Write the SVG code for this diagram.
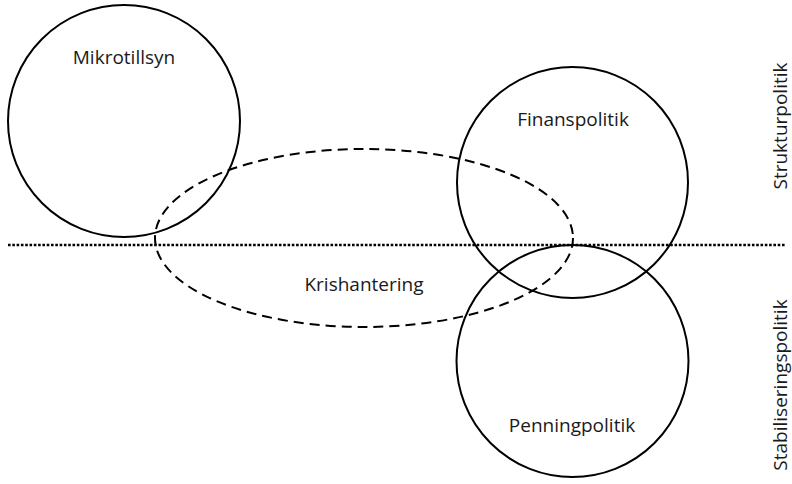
<svg xmlns="http://www.w3.org/2000/svg" width="792" height="484" viewBox="0 0 792 484">
<style>
.c{fill:none;stroke:#000;stroke-width:2}
.d{fill:none;stroke:#000;stroke-width:2;stroke-dasharray:10 6}
.dot{fill:none;stroke:#000;stroke-width:2.5;stroke-dasharray:2.6 1.7}
text{font-family:"Open Sans","Liberation Sans",sans-serif;font-size:19px;fill:#1a1a1a;text-anchor:middle}
</style>
<rect width="792" height="484" fill="#fff"/>
<g id="connectors">
<line class="dot" x1="8" y1="245" x2="786" y2="245"/>
</g>
<g id="mikrotillsyn">
<circle class="c" cx="124" cy="121" r="116"/>
<text x="124" y="64">Mikrotillsyn</text>
</g>
<g id="finanspolitik">
<circle class="c" cx="572.5" cy="182.5" r="115.5"/>
<text x="573" y="126">Finanspolitik</text>
</g>
<g id="penningpolitik">
<circle class="c" cx="572.5" cy="361" r="116"/>
<text x="572" y="432">Penningpolitik</text>
</g>
<g id="krishantering">
<ellipse class="d" cx="364" cy="238" rx="209" ry="89"/>
<text x="364" y="291">Krishantering</text>
</g>
<g id="strukturpolitik">
<text transform="translate(787 126) rotate(-90)">Strukturpolitik</text>
</g>
<g id="stabiliseringspolitik">
<text transform="translate(787 385) rotate(-90)">Stabiliseringspolitik</text>
</g>
</svg>
